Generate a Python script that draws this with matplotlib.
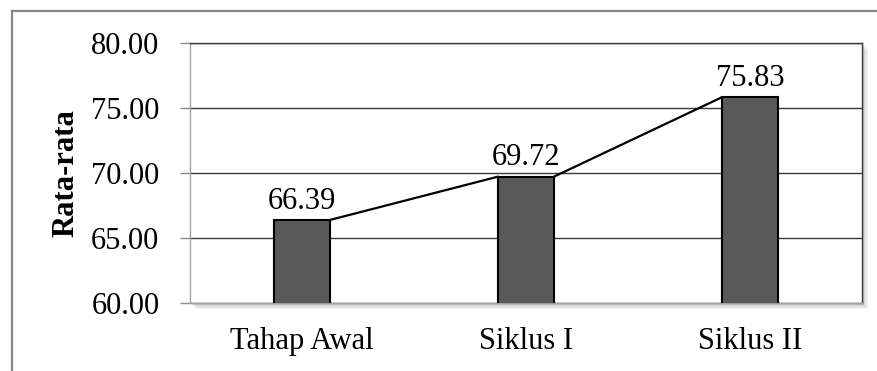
import matplotlib.pyplot as plt
from matplotlib.lines import Line2D
from matplotlib.patches import Rectangle

plt.rcParams['font.family'] = ['Liberation Serif', 'DejaVu Serif']

categories = ['Tahap Awal', 'Siklus I', 'Siklus II']
rata_rata = [66.39, 69.72, 75.83]
y_ticks = [60, 65, 70, 75, 80]

W, H = 877, 371
fig = plt.figure(figsize=(W / 100, H / 100), dpi=100)

# plot area in pixel coordinates
left, right, top, bottom = 190, 862, 43, 303
pos = [left / W, (H - bottom) / H, (right - left) / W, (bottom - top) / H]

# soft drop shadow behind the plot area
for i, a in enumerate([0.10, 0.08, 0.06, 0.04]):
    off = (i + 1) * 1.5
    fig.patches.append(Rectangle(((left + off) / W, (H - bottom - off) / H),
                                 (right - left) / W, (bottom - top) / H,
                                 transform=fig.transFigure, facecolor='black',
                                 alpha=a, edgecolor='none', zorder=0))

ax = fig.add_axes(pos)
ax.set_zorder(1)

x = list(range(len(categories)))
bw = 0.25
ax.bar(x, rata_rata, width=bw, color='#595959', edgecolor='black',
       linewidth=1.5, zorder=3)

# trend line joining the tops of neighbouring bars
for i in range(len(x) - 1):
    ax.plot([x[i] + bw / 2, x[i + 1] - bw / 2], [rata_rata[i], rata_rata[i + 1]],
            color='black', linewidth=1.6, zorder=4, solid_capstyle='round')

for xi, v in zip(x, rata_rata):
    ax.annotate(f'{v:.2f}', (xi, v), xytext=(0, 3), textcoords='offset points',
                ha='center', va='bottom', fontsize=22, zorder=5)

ax.set_xlim(-0.5, len(x) - 0.5)
ax.set_ylim(60, 80)
ax.set_yticks(y_ticks)
ax.set_yticklabels([f'{t:.2f}' for t in y_ticks], fontsize=22)
ax.set_xticks(x)
ax.set_xticklabels(categories, fontsize=22)
ax.tick_params(axis='x', length=0, pad=17)
ax.tick_params(axis='y', length=7, width=1, color='#8c8c8c', pad=15)
ax.yaxis.grid(True, color='#3a3a3a', linewidth=1.0, zorder=1)
ax.set_axisbelow(True)

ax.spines['top'].set_color('#3a3a3a')
ax.spines['right'].set_color('#3a3a3a')
ax.spines['left'].set_color('#a0a0a0')
ax.spines['bottom'].set_color('#a0a0a0')
for s in ax.spines.values():
    s.set_linewidth(1.0)

ax.set_ylabel('Rata-rata', fontsize=22, fontweight='bold')
ax.yaxis.set_label_coords(-(left - 80) / (right - left), 0.5)

# chart frame, cut at the right and bottom edges
fig.add_artist(Line2D([12 / W, 1.0], [(H - 11) / H] * 2, transform=fig.transFigure,
                      color='#888888', linewidth=1.6))
fig.add_artist(Line2D([12 / W] * 2, [0.0, (H - 11) / H], transform=fig.transFigure,
                      color='#888888', linewidth=1.6))

fig.savefig('out.png', dpi=100)
